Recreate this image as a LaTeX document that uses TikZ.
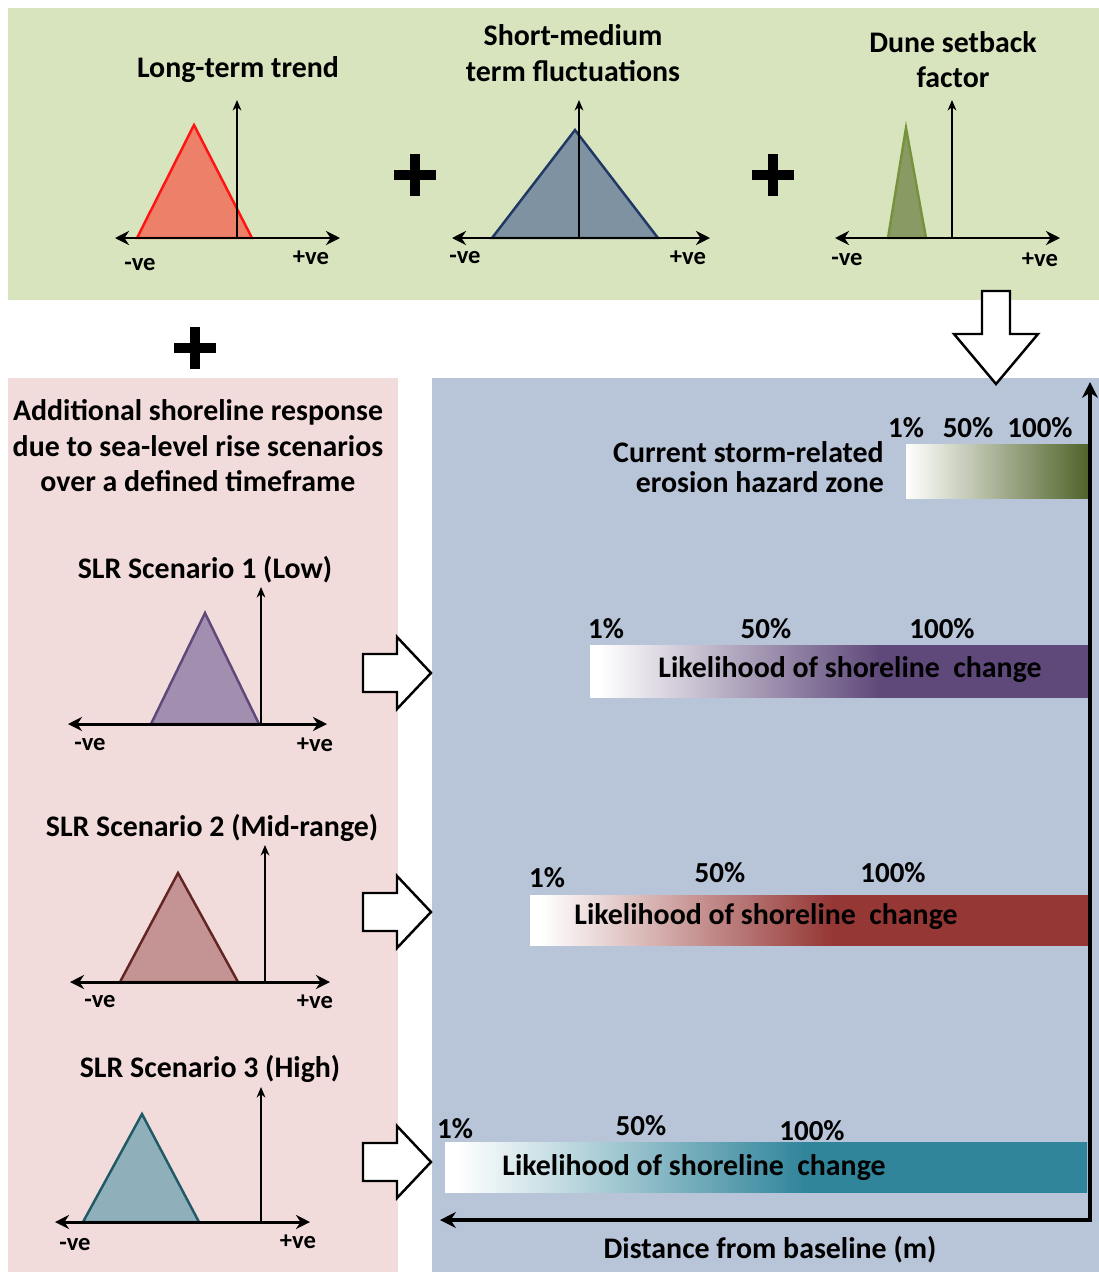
\documentclass[tikz,border=0pt]{standalone}
\usepackage{fontspec}
\setmainfont{Carlito}
\usepackage{tikz}
\usetikzlibrary{positioning,arrows,arrows.meta}

\definecolor{greenbg}{RGB}{215,228,190}
\definecolor{pinkbg}{RGB}{242,220,219}
\definecolor{bluebg}{RGB}{184,196,215}
\definecolor{ltline}{RGB}{255,20,20}
\definecolor{ltfill}{RGB}{236,128,105}
\definecolor{smline}{RGB}{31,56,100}
\definecolor{smfill}{RGB}{126,146,162}
\definecolor{dsline}{RGB}{118,146,60}
\definecolor{dsfill}{RGB}{138,154,100}
\definecolor{lowline}{RGB}{95,73,122}
\definecolor{lowfill}{RGB}{162,142,174}
\definecolor{midline}{RGB}{99,37,35}
\definecolor{midfill}{RGB}{196,148,148}
\definecolor{highline}{RGB}{33,89,103}
\definecolor{highfill}{RGB}{143,176,186}
\definecolor{stormbar}{RGB}{79,98,40}
\definecolor{lowbar}{RGB}{95,73,122}
\definecolor{midbar}{RGB}{149,55,53}
\definecolor{highbar}{RGB}{49,133,155}

% bar shadings: white on the left, full colour from about half way
\pgfdeclarehorizontalshading{lowshade}{100bp}{color(0bp)=(white); color(26bp)=(white); color(54bp)=(lowbar); color(100bp)=(lowbar)}
\pgfdeclarehorizontalshading{midshade}{100bp}{color(0bp)=(white); color(26bp)=(white); color(52bp)=(midbar); color(100bp)=(midbar)}
\pgfdeclarehorizontalshading{highshade}{100bp}{color(0bp)=(white); color(26bp)=(white); color(53bp)=(highbar); color(100bp)=(highbar)}

\tikzset{
  xaxis/.style={line width=1.7pt,{Stealth[length=8pt,width=8pt]}-{Stealth[length=8pt,width=8pt]}},
  yaxis/.style={line width=0.9pt,-{Stealth[length=6pt,width=5pt]}},
  tri/.style={line width=1.4pt,line join=miter},
  plussign/.style={line width=5.5pt},
  blockarrow/.style={draw=black,fill=white,line width=1.4pt,line join=miter},
  baseaxis/.style={line width=1.8pt,{Stealth[length=9pt,width=9pt]}-{Stealth[length=9pt,width=9pt]}},
  lab/.style={inner sep=1pt,font=\bfseries\fontsize{14}{16}\selectfont},
  pct/.style={inner sep=1pt,font=\bfseries\fontsize{16.5}{18}\selectfont}
}

\begin{document}
\begin{tikzpicture}[x=0.02cm,y=-0.02cm,font=\bfseries\fontsize{17}{20}\selectfont]
\useasboundingbox (0,0) rectangle (1099,1275);
\fill[white] (0,0) rectangle (1099,1275);
% panels
\fill[greenbg] (8,8) rectangle (1099,300);
\fill[pinkbg] (8,378) rectangle (398,1272);
\fill[bluebg] (432,378) rectangle (1099,1272);

% long-term trend
\coordinate (lto) at (237,238);
\filldraw[tri,draw=ltline,fill=ltfill] (lto) ++(-100,0) -- ++(57,-113) -- ++(58,113) -- cycle;
\draw[xaxis] (lto) ++(-122,0) -- ++(225,0);
\draw[yaxis] (lto) -- ++(0,-138);
\node (lt-title) at (238,70) {Long-term trend};
\node[lab] (lt-neg) at ([shift={(-97,27)}]lto) {-ve};
\node[lab] (lt-pos) at ([shift={(74,20)}]lto) {+ve};

% short-medium term
\coordinate (smo) at (579,238);
\filldraw[tri,draw=smline,fill=smfill] (smo) ++(-87,0) -- ++(83,-108) -- ++(83,108) -- cycle;
\draw[xaxis] (smo) ++(-127,0) -- ++(258,0);
\draw[yaxis] (smo) -- ++(0,-138);
\node[align=center,font=\bfseries\fontsize{17}{20.4}\selectfont] (sm-title) at (573,53) {Short-medium\\term fluctuations};
\node[lab] (sm-neg) at ([shift={(-114,20)}]smo) {-ve};
\node[lab] (sm-pos) at ([shift={(109,20)}]smo) {+ve};

% dune setback
\coordinate (dso) at (952,238);
\filldraw[tri,draw=dsline,fill=dsfill] (dso) ++(-64,0) -- ++(18,-110) -- ++(20,110) -- cycle;
\draw[xaxis] (dso) ++(-117,0) -- ++(225,0);
\draw[yaxis] (dso) -- ++(0,-138);
\node[align=center,font=\bfseries\fontsize{17}{19.8}\selectfont] (ds-title) at (953,60) {Dune setback\\factor};
\node[lab] (ds-neg) at ([shift={(-105,22)}]dso) {-ve};
\node[lab] (ds-pos) at ([shift={(88,22)}]dso) {+ve};

% plus signs
\foreach \p in {(415,175),(773,175),(195,348)}
  \draw[plussign] \p ++(-21,0) -- ++(42,0) \p ++(0,-21) -- ++(0,42);

% arrow down into the hazard panel
\filldraw[blockarrow] (982,291) -- (1010,291) -- (1010,334) -- (1038,334) -- (996,384)
  -- (954,334) -- (982,334) -- cycle;

% sea-level rise scenarios
\node[align=center,font=\bfseries\fontsize{17}{20.2}\selectfont] (slr-text) at (198,446)
  {Additional shoreline response\\due to sea-level rise scenarios\\over a defined timeframe};

\coordinate (lowo) at (261,724);
\filldraw[tri,draw=lowline,fill=lowfill] (lowo) ++(-110,0) -- ++(54,-111) -- ++(54,111) -- cycle;
\draw[xaxis] (lowo) ++(-193,0) -- ++(259,0);
\draw[yaxis] (lowo) -- ++(0,-137);
\node (low-title) at (205,570) {SLR Scenario 1 (Low)};
\node[lab] (low-neg) at ([shift={(-171,21)}]lowo) {-ve};
\node[lab] (low-pos) at ([shift={(54,21)}]lowo) {+ve};

\coordinate (mido) at (265,982);
\filldraw[tri,draw=midline,fill=midfill] (mido) ++(-145,0) -- ++(58,-109) -- ++(60,109) -- cycle;
\draw[xaxis] (mido) ++(-195,0) -- ++(260,0);
\draw[yaxis] (mido) -- ++(0,-137);
\node (mid-title) at (212,828) {SLR Scenario 2 (Mid-range)};
\node[lab] (mid-neg) at ([shift={(-165,20)}]mido) {-ve};
\node[lab] (mid-pos) at ([shift={(50,20)}]mido) {+ve};

\coordinate (higho) at (261,1222);
\filldraw[tri,draw=highline,fill=highfill] (higho) ++(-178,0) -- ++(59,-108) -- ++(57,108) -- cycle;
\draw[xaxis] (higho) ++(-206,0) -- ++(255,0);
\draw[yaxis] (higho) -- ++(0,-135);
\node (high-title) at (210,1069) {SLR Scenario 3 (High)};
\node[lab] (high-neg) at ([shift={(-186,23)}]higho) {-ve};
\node[lab] (high-pos) at ([shift={(37,20)}]higho) {+ve};

% arrows into the blue panel
\foreach \cy in {673,912,1162}
  \filldraw[blockarrow] (363,\cy) ++(0,-19) -- ++(34,0) -- ++(0,-17) -- ++(34,36)
    -- ++(-34,36) -- ++(0,-17) -- ++(-34,0) -- cycle;

% likelihood bars
\shade[left color=white,right color=stormbar] (906,444) rectangle (1090,498);
\node[anchor=east,align=right,font=\bfseries\fontsize{17}{16.8}\selectfont] (storm-text) at (890,467)
  {Current storm-related\\erosion hazard zone};
\node[pct] (storm-1) at (906,428) {1\%};
\node[pct] (storm-50) at (968,428) {50\%};
\node[pct] (storm-100) at (1040,428) {100\%};

\shade[shading=lowshade] (590,645) rectangle (1090,697);
\node (low-bar) at (850,670) {Likelihood of shoreline~ change};
\node[pct] (low-1) at (606,629) {1\%};
\node[pct] (low-50) at (766,629) {50\%};
\node[pct] (low-100) at (942,629) {100\%};

\shade[shading=midshade] (530,895) rectangle (1090,945);
\node (mid-bar) at (766,917) {Likelihood of shoreline~ change};
\node[pct] (mid-1) at (547,878) {1\%};
\node[pct] (mid-50) at (720,873) {50\%};
\node[pct] (mid-100) at (893,873) {100\%};

\shade[shading=highshade] (445,1142) rectangle (1087,1192);
\node (high-bar) at (694,1168) {Likelihood of shoreline~ change};
\node[pct] (high-1) at (455,1129) {1\%};
\node[pct] (high-50) at (641,1126) {50\%};
\node[pct] (high-100) at (812,1131) {100\%};

% distance axis
\coordinate (corner) at (1090,1220);
\draw[baseaxis] (1090,382) -- (corner) -- (440,1220);
\node (dist) at (770,1250) {Distance from baseline (m)};
\end{tikzpicture}
\end{document}
